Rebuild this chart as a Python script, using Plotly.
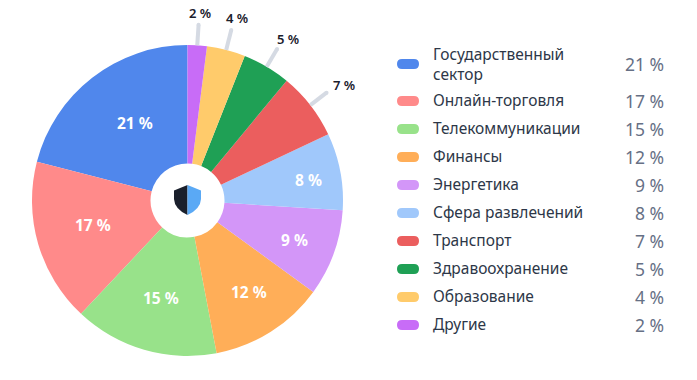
import math
import plotly.graph_objects as go

categories = ["Государственный<br>сектор", "Онлайн-торговля", "Телекоммуникации", "Финансы", "Энергетика",
              "Сфера развлечений", "Транспорт", "Здравоохранение", "Образование", "Другие"]
values = [21, 17, 15, 12, 9, 8, 7, 5, 4, 2]
colors = ["#5087EC", "#FF8A8A", "#98E28A", "#FFAE58", "#D396F8", "#A0C8FB", "#EB5E5E", "#1FA055", "#FFCB6B", "#C86CF7"]
outside_limit = 8  # slices below this carry their label outside

W, H = 697, 380
CX, CY, R = 187.5, 200.5, 155.5
FONT = "Noto Sans"
# label placement around each slice's mid-angle (inside labels only): distance, angular nudge in degrees
inside_radius = [93.5, 98, 101, 110, 114.5, 123]
inside_nudge = [3.8, 1.5, -1, -1.6, 0.4, 1.2]

def px(x): return x / W
def py(y): return 1 - y / H

shapes, annotations = [], []
total = sum(values)

# inside labels
cum = 0
for v, rad, nudge in zip(values, inside_radius, inside_nudge):
    mid = -(cum + v / 2) / total * 2 * math.pi + math.radians(nudge)
    cum += v
    annotations.append(dict(x=px(CX + rad * math.sin(mid)), y=py(CY - rad * math.cos(mid)), xref="paper", yref="paper",
                            showarrow=False, text=f"{v} %", xanchor="center", yanchor="middle",
                            font=dict(family=FONT, size=15.5, color="white", weight=700)))

# leader lines and outside labels
cum = 0
for v in reversed(values):
    mid = (cum + v / 2) / total * 2 * math.pi
    cum += v
    if v >= outside_limit:
        continue
    s, c = math.sin(mid), math.cos(mid)
    x0, y0 = CX + R * s, CY - R * c
    x1, y1 = CX + 176 * s, CY - 176 * c
    shapes.append(dict(type="line", xref="paper", yref="paper", x0=px(x0), y0=py(y0), x1=px(x1), y1=py(y1),
                       line=dict(color="#D5DAE3", width=4)))
    shapes.append(dict(type="circle", xref="paper", yref="paper", x0=px(x1 - 2), x1=px(x1 + 2),
                       y0=py(y1 + 2), y1=py(y1 - 2), fillcolor="#D5DAE3", line=dict(width=0)))
    annotations.append(dict(x=px(CX + 198 * s), y=py(CY - 188 * c), xref="paper", yref="paper", showarrow=False,
                            text=f"{v} %", font=dict(family=FONT, size=13, color="#1A202C", weight=600),
                            xanchor="center", yanchor="middle"))

# shield icon
def shield(side, color):
    xm = CX
    e = xm + side * 13.5
    m = xm + side * 13
    path = (f"M {px(xm)} {py(185)} L {px(e)} {py(190.5)} L {px(e)} {py(199)} "
            f"Q {px(m)} {py(209)} {px(xm)} {py(215)} Z")
    shapes.append(dict(type="path", xref="paper", yref="paper", path=path, fillcolor=color, line=dict(width=0)))
shield(-1, "#1A202C")
shield(1, "#5AA9F5")

# legend
rows = [64, 101, 129, 157, 185, 213, 241, 269, 297, 325]
for label, v, col, y in zip(categories, values, colors, rows):
    x0, x1, y0, y1, r = 397, 419, y - 5, y + 5, 5
    path = (f"M {px(x0 + r)} {py(y0)} L {px(x1 - r)} {py(y0)} Q {px(x1)} {py(y0)} {px(x1)} {py(y)} "
            f"Q {px(x1)} {py(y1)} {px(x1 - r)} {py(y1)} L {px(x0 + r)} {py(y1)} "
            f"Q {px(x0)} {py(y1)} {px(x0)} {py(y)} Q {px(x0)} {py(y0)} {px(x0 + r)} {py(y0)} Z")
    shapes.append(dict(type="path", xref="paper", yref="paper", path=path, fillcolor=col, line=dict(width=0)))
    annotations.append(dict(x=px(431), y=py(y - 0.5 if "<br>" in label else y - 1.5), xref="paper", yref="paper",
                            showarrow=False, text=label, align="left", xanchor="left", yanchor="middle",
                            font=dict(family=FONT, size=15.5, color="#2D3748")))
    annotations.append(dict(x=px(666), y=py(y), xref="paper", yref="paper", showarrow=False, text=f"{v} %",
                            align="right", xanchor="right", yanchor="middle",
                            font=dict(family=FONT, size=17.5, color="#667085")))

fig = go.Figure(go.Pie(
    labels=[c.replace("<br>", " ") for c in categories],
    values=values,
    marker=dict(colors=colors, line=dict(width=0)),
    sort=False, direction="counterclockwise", rotation=-values[0] / total * 360,
    hole=37 / R,
    textinfo="none",
    domain=dict(x=[px(CX - R), px(CX + R)], y=[py(CY + R), py(CY - R)]),
    showlegend=False,
))
fig.update_layout(width=W, height=H, margin=dict(l=0, r=0, t=0, b=0), paper_bgcolor="white",
                  showlegend=False, shapes=shapes, annotations=annotations, font=dict(family=FONT))
fig.write_html("out.html", post_script="document.body.style.margin='0';", config=dict(displayModeBar=False))
